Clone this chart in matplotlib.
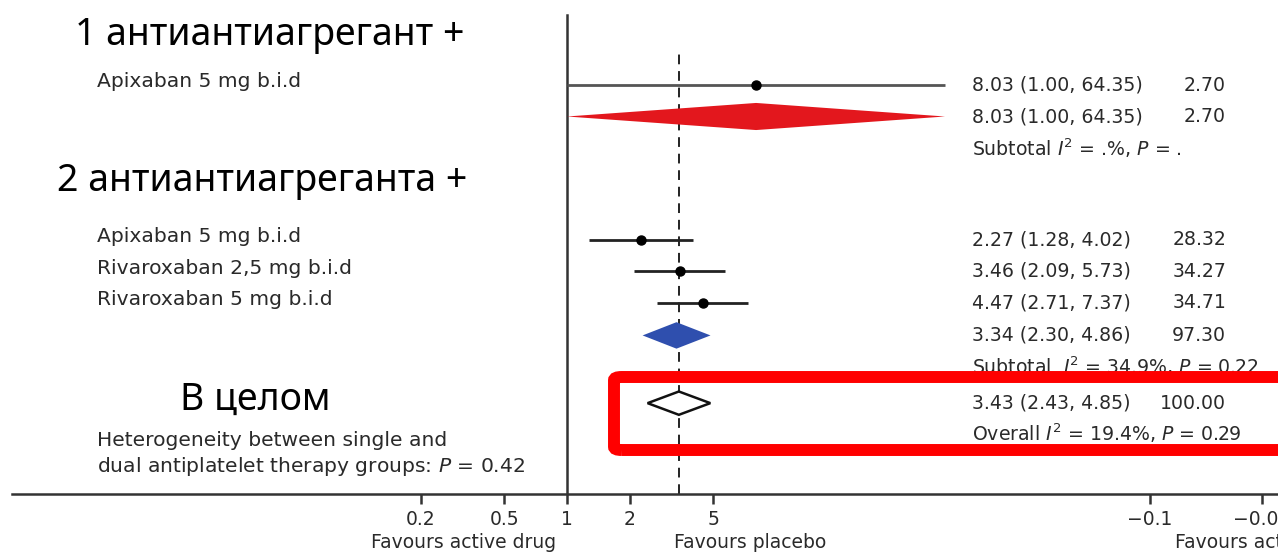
import matplotlib
matplotlib.use("Agg")
import matplotlib.pyplot as plt
import numpy as np
from matplotlib.patches import FancyBboxPatch

# ---------------- data ----------------
group1_labels = ["Apixaban 5 mg b.i.d"]
group1_or = [8.03]
group1_lo = [1.00]
group1_hi = [64.35]
group1_w = [2.70]
sub1_or, sub1_lo, sub1_hi, sub1_w = 8.03, 1.00, 64.35, 2.70
sub1_text = r"Subtotal $I^2$ = .%, $P$ = ."

group2_labels = ["Apixaban 5 mg b.i.d", "Rivaroxaban 2,5 mg b.i.d", "Rivaroxaban 5 mg b.i.d"]
group2_or = [2.27, 3.46, 4.47]
group2_lo = [1.28, 2.09, 2.71]
group2_hi = [4.02, 5.73, 7.37]
group2_w = [28.32, 34.27, 34.71]
sub2_or, sub2_lo, sub2_hi, sub2_w = 3.34, 2.30, 4.86, 97.30
sub2_text = r"Subtotal  $I^2$ = 34.9%, $P$ = 0.22"

overall_or, overall_lo, overall_hi, overall_w = 3.43, 2.43, 4.85, 100.00
overall_text = r"Overall $I^2$ = 19.4%, $P$ = 0.29"

heading1 = "1 антиантиагрегант +"
heading2 = "2 антиантиагреганта +"
heading3 = "В целом"
het_lines = ["Heterogeneity between single and",
             r"dual antiplatelet therapy groups: $P$ = 0.42"]

tick_values = [0.2, 0.5, 1, 2, 5]
tick_labels = ["0.2", "0.5", "1", "2", "5"]
right_tick_values = [-0.1, -0.05]
right_tick_labels = ["\u22120.1", "\u22120.05"]
xlabel_left = "Favours active drug"
xlabel_mid = "Favours placebo"
xlabel_right = "Favours active drug"

# ---------------- layout ----------------
W, H = 1278, 558
X1 = 567          # pixel of OR = 1
PX_DEC = 209      # pixels per decade
AX_L = 12
AX_B = 494
ROW0 = 85
ROWH = 31.5

fig = plt.figure(figsize=(W / 100, H / 100), dpi=100)
fig.patch.set_facecolor("white")

ax = fig.add_axes([AX_L / W, (H - AX_B) / H, (W - AX_L) / W, AX_B / H])
ax.set_xscale("log")
ax.set_xlim(10 ** ((AX_L - X1) / PX_DEC), 10 ** ((W - X1) / PX_DEC))
ax.set_ylim((AX_B - ROW0) / ROWH, (0 - ROW0) / ROWH)
for s in ["top", "left", "right"]:
    ax.spines[s].set_visible(False)
ax.spines["bottom"].set_linewidth(1.8)
ax.spines["bottom"].set_color("#333333")
ax.set_yticks([])
ax.set_xticks(tick_values)
ax.set_xticklabels(tick_labels)
ax.xaxis.set_minor_locator(matplotlib.ticker.NullLocator())
TICK_KW = dict(axis="x", which="major", direction="out", length=7, width=1.8,
               color="#333333", labelsize=13.5, labelcolor="#2a2a2a", pad=4.5,
               bottom=True)
ax.tick_params(**TICK_KW)

ytr = ax.get_yaxis_transform()


def axx(px):
    return (px - AX_L) / (W - AX_L)


# row positions (layout)
rows_g1 = [0]
row_sub1 = 1
row_sub1_txt = 2
row_head2 = 3.05
rows_g2 = [4.92, 5.92, 6.92]
row_sub2 = 7.95
row_sub2_txt = 8.92
row_overall = 10.1
row_overall_txt = 11.05
row_het = [11.27, 12.1]
row_head1 = -1.6

dark = "#2a2a2a"
TXT_FS = 13.6
LBL_FS = 14.6

# reference lines
ybot = ax.get_ylim()[0]
ax.plot([1, 1], [ybot, (15 - ROW0) / ROWH], color="#333333", lw=1.8, zorder=2)
ax.plot([overall_or, overall_or], [ybot, (52 - ROW0) / ROWH], color="#222222",
        lw=1.4, ls=(0, (5, 3.5)), zorder=2)


def num_text(r, o, lo, hi, w):
    ax.text(axx(972), r, f"{o:.2f} ({lo:.2f}, {hi:.2f})", transform=ytr,
            ha="left", va="center", fontsize=TXT_FS, color=dark, family="DejaVu Sans")
    ax.text(axx(1226), r, f"{w:.2f}", transform=ytr, ha="right", va="center",
            fontsize=TXT_FS, color=dark, family="DejaVu Sans")


# study rows
def study(rows, ors, los, his, ws, labels, col):
    for r, o, lo, hi, w, lab in zip(rows, ors, los, his, ws, labels):
        ax.plot([lo, hi], [r, r], color=col, lw=2.0, zorder=3, solid_capstyle="butt")
        ax.plot([o], [r], "o", color="black", ms=6.5, zorder=4)
        ax.text(axx(97), r - 0.1, lab, transform=ytr, ha="left", va="center",
                fontsize=LBL_FS, color=dark, family="DejaVu Sans")
        num_text(r, o, lo, hi, w)


study(rows_g1, group1_or, group1_lo, group1_hi, group1_w, group1_labels, "#555555")
study(rows_g2, group2_or, group2_lo, group2_hi, group2_w, group2_labels, "#222222")


def diamond(r, o, lo, hi, w, half, fc, ec, txt, txt_row):
    ax.fill([lo, o, hi, o], [r, r - half, r, r + half], facecolor=fc, edgecolor=ec,
            lw=1.8 if ec != "none" else 0, zorder=4)
    num_text(r, o, lo, hi, w)
    ax.text(axx(972), txt_row, txt, transform=ytr, ha="left", va="center",
            fontsize=TXT_FS, color=dark, family="DejaVu Sans")


diamond(row_sub1, sub1_or, sub1_lo, sub1_hi, sub1_w, 0.43, "#e3171d", "none", sub1_text, row_sub1_txt)
diamond(row_sub2, sub2_or, sub2_lo, sub2_hi, sub2_w, 0.42, "#2f4fae", "none", sub2_text, row_sub2_txt)
diamond(row_overall, overall_or, overall_lo, overall_hi, overall_w, 0.37, "white", "#111111",
        overall_text, row_overall_txt)

# heterogeneity text
for r, t in zip(row_het, het_lines):
    ax.text(axx(97), r, t, transform=ytr, ha="left", va="center",
            fontsize=LBL_FS, color=dark, family="DejaVu Sans")

# Russian headings
head_kw = dict(transform=ytr, ha="left", va="center", fontsize=27, color="black",
               family=["Noto Sans", "DejaVu Sans"], zorder=6,
               bbox=dict(facecolor="white", edgecolor="none", pad=1))
ax.text(axx(75), row_head1, heading1, **head_kw)
ax.text(axx(57), row_head2, heading2, **head_kw)
ax.text(axx(180), row_overall - 0.1, heading3, **head_kw)

# x-axis captions
CAP_Y = 1 - 543 / H
fig.text(464 / W, CAP_Y, xlabel_left, ha="center", va="center", fontsize=13.5,
         color=dark, family="DejaVu Sans")
fig.text(750 / W, CAP_Y, xlabel_mid, ha="center", va="center", fontsize=13.5,
         color=dark, family="DejaVu Sans")
fig.text(1175 / W, CAP_Y, xlabel_right, ha="left", va="center", fontsize=13.5,
         color=dark, family="DejaVu Sans")

# right-hand (cut-off) panel axis
R_L, R_R = 1100, 1500
ax2 = fig.add_axes([R_L / W, (H - AX_B) / H, (R_R - R_L) / W, 0.001])
px_per_unit = (1262 - 1150) / 0.05
ax2.set_xlim(-0.1 - (1150 - R_L) / px_per_unit, -0.1 + (R_R - 1150) / px_per_unit)
for s in ax2.spines.values():
    s.set_visible(False)
ax2.patch.set_alpha(0)
ax2.set_yticks([])
ax2.set_xticks(right_tick_values)
ax2.set_xticklabels(right_tick_labels)
ax2.tick_params(**TICK_KW)

# red highlight box
box = FancyBboxPatch((614 / W, 1 - 450 / H), (W + 40 - 614) / W, (450 - 377) / H,
                     boxstyle="round,pad=0,rounding_size=0.006",
                     transform=fig.transFigure, facecolor="none",
                     edgecolor="#ff0000", lw=8.6, zorder=10)
fig.patches.append(box)

fig.savefig("out.png", dpi=100)
